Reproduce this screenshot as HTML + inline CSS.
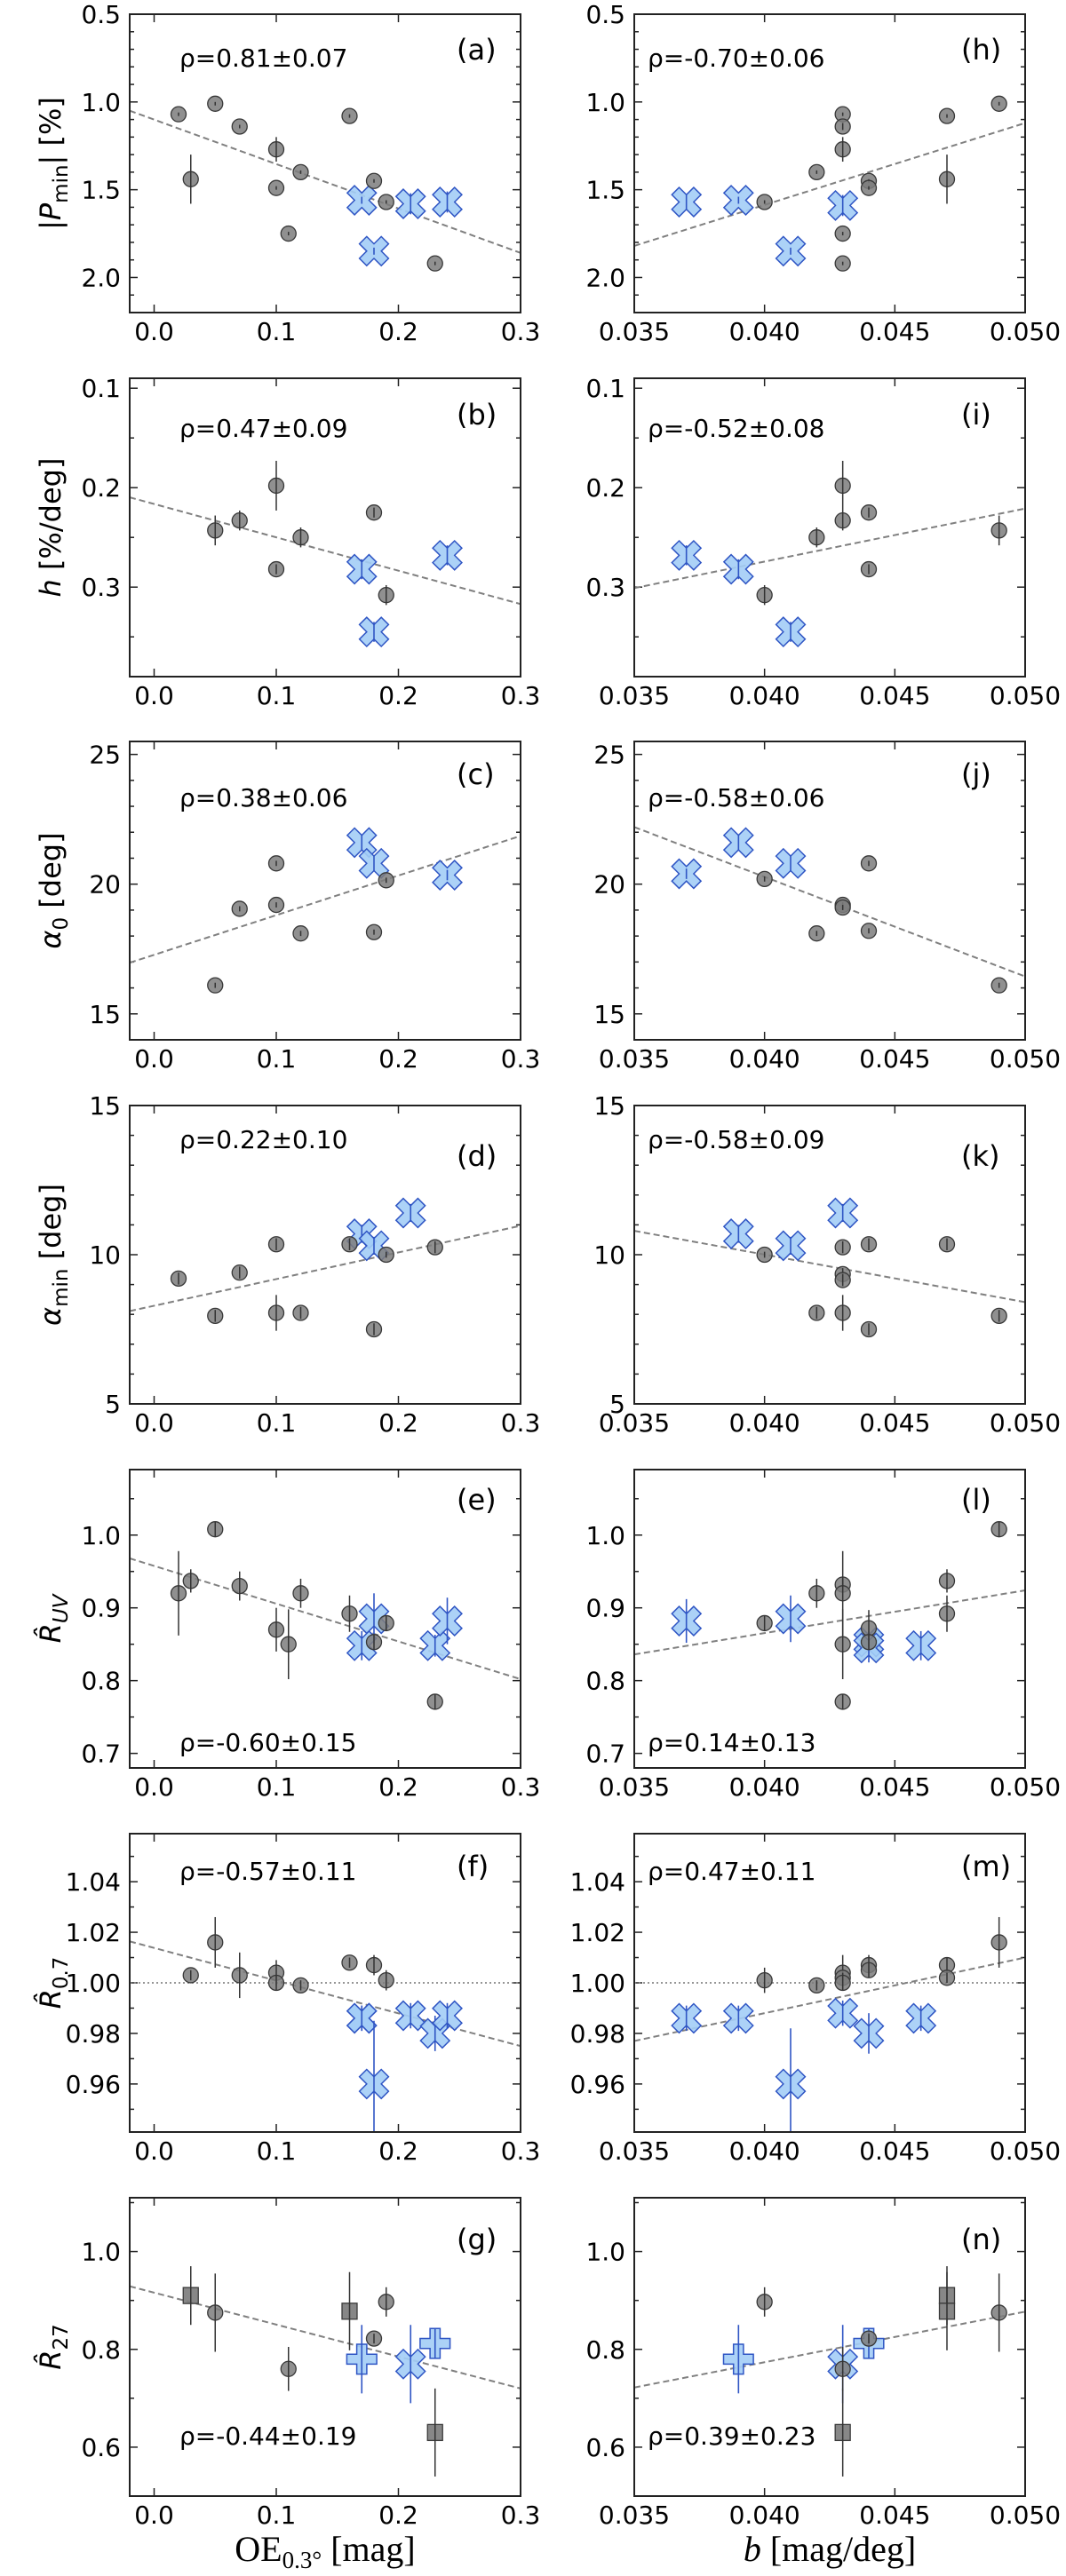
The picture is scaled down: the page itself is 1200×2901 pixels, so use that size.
<!DOCTYPE html>
<html><head><meta charset="utf-8">
<style>
html,body{margin:0;padding:0;background:#fff;}
svg{display:block;font-family:"DejaVu Sans","Liberation Sans",sans-serif;}
</style></head>
<body>
<svg id="fig" width="1200" height="2901" viewBox="0 0 1200 2901" xmlns="http://www.w3.org/2000/svg"></svg>
<script>
// ---- data: [x, y, yerr] ----
const xTicksLeft = [0.0, 0.1, 0.2, 0.3];
const xTickLabelsLeft = ["0.0","0.1","0.2","0.3"];
const xTicksRight = [0.035, 0.040, 0.045, 0.050];
const xTickLabelsRight = ["0.035","0.040","0.045","0.050"];

const aCircles = [[0.02,1.07,0.01],[0.03,1.44,0.14],[0.05,1.01,0.01],[0.07,1.14,0.01],[0.10,1.27,0.07],[0.10,1.49,0.01],[0.11,1.75,0.01],[0.12,1.40,0.01],[0.16,1.08,0.01],[0.18,1.45,0.01],[0.19,1.57,0.01],[0.23,1.92,0.01]];
const aCrosses = [[0.17,1.56,0.02],[0.18,1.85,0.02],[0.21,1.58,0.06],[0.24,1.57,0.06]];
const aFit = [1.05,1.86];
const hCircles = [[0.040,1.57,0.01],[0.042,1.40,0.01],[0.043,1.07,0.01],[0.043,1.14,0.02],[0.043,1.27,0.07],[0.043,1.75,0.01],[0.043,1.92,0.01],[0.044,1.45,0.01],[0.044,1.49,0.01],[0.047,1.08,0.01],[0.047,1.44,0.14],[0.049,1.01,0.01]];
const hCrosses = [[0.037,1.57,0.04],[0.039,1.56,0.02],[0.041,1.85,0.02],[0.043,1.59,0.06]];
const hFit = [1.82,1.12];

const bCircles = [[0.05,0.243,0.015],[0.07,0.233,0.01],[0.10,0.198,0.025],[0.10,0.282,0.005],[0.12,0.25,0.01],[0.18,0.225,0.005],[0.19,0.308,0.01]];
const bCrosses = [[0.17,0.282,0.01],[0.18,0.345,0.01],[0.24,0.268,0.01]];
const bFit = [0.2097,0.317];
const iCircles = [[0.040,0.308,0.01],[0.042,0.25,0.01],[0.043,0.198,0.025],[0.043,0.233,0.01],[0.044,0.225,0.005],[0.044,0.282,0.005],[0.049,0.243,0.015]];
const iCrosses = [[0.037,0.268,0.01],[0.039,0.282,0.01],[0.041,0.345,0.01]];
const iFit = [0.301,0.221];

const cCircles = [[0.05,16.1,0.1],[0.07,19.05,0.1],[0.10,20.8,0.1],[0.10,19.2,0.1],[0.12,18.1,0.1],[0.18,18.15,0.1],[0.19,20.15,0.1]];
const cCrosses = [[0.17,21.6,0.3],[0.18,20.8,0.3],[0.24,20.35,0.2]];
const cFit = [16.97,21.86];
const jCircles = [[0.040,20.2,0.1],[0.042,18.1,0.1],[0.043,19.2,0.1],[0.043,19.1,0.1],[0.044,20.8,0.1],[0.044,18.2,0.1],[0.049,16.1,0.1]];
const jCrosses = [[0.037,20.4,0.2],[0.039,21.6,0.3],[0.041,20.8,0.3]];
const jFit = [22.2,16.44];

const dCircles = [[0.02,9.2,0.2],[0.05,7.95,0.2],[0.07,9.4,0.2],[0.10,10.35,0.2],[0.10,8.05,0.6],[0.12,8.05,0.2],[0.16,10.35,0.2],[0.18,7.5,0.2],[0.19,10.0,0.1],[0.23,10.25,0.2]];
const dCrosses = [[0.17,10.7,0.3],[0.18,10.3,0.3],[0.21,11.4,0.3]];
const dFit = [8.11,10.97];
const kCircles = [[0.040,10.0,0.1],[0.042,8.05,0.2],[0.043,10.25,0.2],[0.043,9.35,0.2],[0.043,9.15,0.2],[0.043,8.05,0.6],[0.044,10.35,0.2],[0.044,7.5,0.2],[0.047,10.35,0.2],[0.049,7.95,0.2]];
const kCrosses = [[0.039,10.7,0.3],[0.041,10.3,0.3],[0.043,11.4,0.3]];
const kFit = [10.8,8.41];

const eCircles = [[0.02,0.92,0.058],[0.03,0.937,0.016],[0.05,1.008,0.01],[0.07,0.93,0.02],[0.10,0.87,0.03],[0.11,0.85,0.048],[0.12,0.92,0.02],[0.16,0.892,0.025],[0.18,0.853,0.01],[0.19,0.879,0.01],[0.23,0.771,0.01]];
const eCrosses = [[0.17,0.848,0.02],[0.18,0.885,0.035],[0.23,0.848,0.015],[0.24,0.882,0.032]];
const eFit = [0.968,0.802];
const lCircles = [[0.040,0.879,0.01],[0.042,0.92,0.02],[0.043,0.932,0.01],[0.043,0.92,0.058],[0.043,0.85,0.048],[0.043,0.771,0.01],[0.044,0.872,0.025],[0.044,0.853,0.01],[0.047,0.937,0.016],[0.047,0.892,0.025],[0.049,1.008,0.01]];
const lCrosses = [[0.037,0.882,0.03],[0.041,0.885,0.032],[0.044,0.853,0.015],[0.044,0.845,0.02],[0.046,0.848,0.02]];
const lFit = [0.836,0.924];

const fCircles = [[0.03,1.003,0.002],[0.05,1.016,0.01],[0.07,1.003,0.009],[0.10,1.004,0.005],[0.10,1.000,0.003],[0.12,0.999,0.002],[0.16,1.008,0.002],[0.18,1.007,0.004],[0.19,1.001,0.004]];
const fCrosses = [[0.17,0.986,0.005],[0.17,0.986,0.005],[0.18,0.960,0.025],[0.21,0.987,0.005],[0.23,0.980,0.007],[0.24,0.987,0.005]];
const fFit = [1.0164,0.975];
const mCircles = [[0.040,1.001,0.005],[0.042,0.999,0.002],[0.043,1.004,0.007],[0.043,1.002,0.002],[0.043,1.000,0.003],[0.044,1.007,0.004],[0.044,1.005,0.003],[0.047,1.007,0.003],[0.047,1.002,0.002],[0.049,1.016,0.01]];
const mCrosses = [[0.037,0.986,0.005],[0.039,0.986,0.005],[0.041,0.960,0.022],[0.043,0.988,0.005],[0.044,0.980,0.008],[0.046,0.986,0.005]];
const mFit = [0.977,1.010];

const gSquares = [[0.03,0.91,0.06],[0.16,0.878,0.08],[0.23,0.63,0.09]];
const gCircles = [[0.05,0.875,0.08],[0.11,0.76,0.045],[0.18,0.822,0.01],[0.19,0.897,0.03]];
const gPluses = [[0.17,0.78,0.07],[0.23,0.812,0.03]];
const gCrosses = [[0.21,0.77,0.08]];
const gFit = [0.929,0.72];
const nSquares = [[0.043,0.63,0.09],[0.047,0.91,0.06],[0.047,0.878,0.08]];
const nCircles = [[0.040,0.897,0.03],[0.043,0.76,0.045],[0.044,0.822,0.01],[0.049,0.875,0.08]];
const nPluses = [[0.039,0.78,0.07],[0.044,0.812,0.03]];
const nCrosses = [[0.043,0.77,0.08]];
const nFit = [0.722,0.877];

const rhoTexts = ["ρ=0.81±0.07","ρ=0.47±0.09","ρ=0.38±0.06","ρ=0.22±0.10","ρ=-0.60±0.15","ρ=-0.57±0.11","ρ=-0.44±0.19",
                  "ρ=-0.70±0.06","ρ=-0.52±0.08","ρ=-0.58±0.06","ρ=-0.58±0.09","ρ=0.14±0.13","ρ=0.47±0.11","ρ=0.39±0.23"];

// ---- layout ----
const NS = "http://www.w3.org/2000/svg";
const svg = document.getElementById('fig');
const BW = 440, BH = 336;
const colX = [146, 714];
const rowY = [16, 426, 835, 1245, 1655, 2065, 2475];
const rhoY = [75, 492, 908, 1293, 1972, 2117, 2753];
const letY = [67, 478, 883, 1313, 1700, 2113, 2533];

function el(tag, attrs, parent){
  const e = document.createElementNS(NS, tag);
  for (const k in attrs) e.setAttribute(k, attrs[k]);
  (parent||svg).appendChild(e);
  return e;
}

const rows = [
 {ylim:[0.5,2.2], inv:true, major:[0.5,1.0,1.5,2.0], labels:["0.5","1.0","1.5","2.0"], minor:0.1, ylab:"pmin"},
 {ylim:[0.09,0.39], inv:true, major:[0.1,0.2,0.3], labels:["0.1","0.2","0.3"], minor:0.05, ylab:"h"},
 {ylim:[14,25.5], inv:false, major:[15,20,25], labels:["15","20","25"], minor:1, ylab:"a0"},
 {ylim:[5,15], inv:false, major:[5,10,15], labels:["5","10","15"], minor:1, ylab:"amin"},
 {ylim:[0.68,1.09], inv:false, major:[0.7,0.8,0.9,1.0], labels:["0.7","0.8","0.9","1.0"], minor:0.05, ylab:"ruv"},
 {ylim:[0.941,1.059], inv:false, major:[0.96,0.98,1.00,1.02,1.04], labels:["0.96","0.98","1.00","1.02","1.04"], minor:0.01, ylab:"r07", hline:1.0},
 {ylim:[0.5,1.11], inv:false, major:[0.6,0.8,1.0], labels:["0.6","0.8","1.0"], minor:0.1, ylab:"r27"}
];
const panels = [
 {c:0,r:0,L:"a",circ:aCircles,cross:aCrosses,fit:aFit},
 {c:0,r:1,L:"b",circ:bCircles,cross:bCrosses,fit:bFit},
 {c:0,r:2,L:"c",circ:cCircles,cross:cCrosses,fit:cFit},
 {c:0,r:3,L:"d",circ:dCircles,cross:dCrosses,fit:dFit},
 {c:0,r:4,L:"e",circ:eCircles,cross:eCrosses,fit:eFit},
 {c:0,r:5,L:"f",circ:fCircles,cross:fCrosses,fit:fFit},
 {c:0,r:6,L:"g",circ:gCircles,cross:gCrosses,fit:gFit,sq:gSquares,plus:gPluses},
 {c:1,r:0,L:"h",circ:hCircles,cross:hCrosses,fit:hFit},
 {c:1,r:1,L:"i",circ:iCircles,cross:iCrosses,fit:iFit},
 {c:1,r:2,L:"j",circ:jCircles,cross:jCrosses,fit:jFit},
 {c:1,r:3,L:"k",circ:kCircles,cross:kCrosses,fit:kFit},
 {c:1,r:4,L:"l",circ:lCircles,cross:lCrosses,fit:lFit},
 {c:1,r:5,L:"m",circ:mCircles,cross:mCrosses,fit:mFit},
 {c:1,r:6,L:"n",circ:nCircles,cross:nCrosses,fit:nFit,sq:nSquares,plus:nPluses}
];

const Xshape = [[-1,-2],[0,-1],[1,-2],[2,-1],[1,0],[2,1],[1,2],[0,1],[-1,2],[-2,1],[-1,0],[-2,-1]];
const Pshape = [[-1,-3],[1,-3],[1,-1],[3,-1],[3,1],[1,1],[1,3],[-1,3],[-1,1],[-3,1],[-3,-1],[-1,-1]];
function poly(shape, cx, cy, s){ return shape.map(p=>(cx+p[0]*s).toFixed(1)+','+(cy+p[1]*s).toFixed(1)).join(' '); }

panels.forEach((p, idx) => {
  const R = rows[p.r];
  const bx = colX[p.c], by = rowY[p.r];
  const xlim = p.c===0 ? [-0.02,0.30] : [0.035,0.050];
  const sx = v => bx + (v - xlim[0])/(xlim[1]-xlim[0])*BW;
  const sy = v => R.inv ? by + (v - R.ylim[0])/(R.ylim[1]-R.ylim[0])*BH
                        : by + (R.ylim[1] - v)/(R.ylim[1]-R.ylim[0])*BH;
  const g = el('g', {});
  
  
  const clipId = 'clip' + p.L;
  const cp = el('clipPath', {id:clipId}, g);
  el('rect', {x:bx, y:by, width:BW, height:BH}, cp);

  // ticks
  const tg = el('g', {stroke:'#222','stroke-width':1.5}, g);
  
  
  const xt = p.c===0 ? xTicksLeft : xTicksRight;
  const xl = p.c===0 ? xTickLabelsLeft : xTickLabelsRight;
  xt.forEach((v,i) => {
    const x = sx(v);
    el('line', {x1:x, y1:by+BH, x2:x, y2:by+BH-9}, tg);
    el('line', {x1:x, y1:by, x2:x, y2:by+9}, tg);
    const t = el('text', {x:x, y:by+BH+31, 'text-anchor':'middle', 'font-size':28, fill:'#000'}, g);
    t.textContent = xl[i];
    
    
  });
  const lo = Math.min(...R.ylim), hi = Math.max(...R.ylim);
  const nStart = Math.ceil(lo/R.minor - 1e-6), nEnd = Math.floor(hi/R.minor + 1e-6);
  for (let n=nStart; n<=nEnd; n++){
    const v = n*R.minor;
    const isMaj = R.major.some(m => Math.abs(m-v) < 1e-6);
    const y = sy(v), len = isMaj ? 9 : 5;
    el('line', {x1:bx, y1:y, x2:bx+len, y2:y}, tg);
    el('line', {x1:bx+BW, y1:y, x2:bx+BW-len, y2:y}, tg);
  }
  R.major.forEach((v,i) => {
    const t = el('text', {x:bx-10, y:sy(v)+10, 'text-anchor':'end', 'font-size':28, fill:'#000'}, g);
    t.textContent = R.labels[i];
    
    
  });

  const plot = el('g', {'clip-path':'url(#'+clipId+')'}, g);
  if (R.hline !== undefined){
    const hl = el('line', {x1:bx, x2:bx+BW, y1:sy(R.hline), y2:sy(R.hline), stroke:'#888','stroke-width':1.8,'stroke-dasharray':'2,3'}, plot);
    
    
  }
  const fl = el('line', {x1:sx(xlim[0]), y1:sy(p.fit[0]), x2:sx(xlim[1]), y2:sy(p.fit[1]), stroke:'#808080','stroke-width':2,'stroke-dasharray':'7,4'}, plot);
  
  

  const blue = '#2f55c4', bfill = '#a3cdf6';
  (p.cross||[]).forEach(d => {
    const x = sx(d[0]), y = sy(d[1]);
    const m = el('polygon', {points:poly(Xshape,x,y,8.2), fill:bfill, 'fill-opacity':0.9, stroke:blue, 'stroke-width':1.5}, plot);
    
    
    const e = el('line', {x1:x, x2:x, y1:sy(d[1]-d[2]), y2:sy(d[1]+d[2]), stroke:blue,'stroke-width':1.6}, plot);
    
    
  });
  (p.plus||[]).forEach(d => {
    const x = sx(d[0]), y = sy(d[1]);
    const m = el('polygon', {points:poly(Pshape,x,y,5.6), fill:bfill, 'fill-opacity':0.9, stroke:blue, 'stroke-width':1.5}, plot);
    
    
    const e = el('line', {x1:x, x2:x, y1:sy(d[1]-d[2]), y2:sy(d[1]+d[2]), stroke:blue,'stroke-width':1.6}, plot);
    
    
  });
  (p.sq||[]).forEach(d => {
    const x = sx(d[0]), y = sy(d[1]);
    const m = el('rect', {x:x-8.5, y:y-9, width:17, height:18, fill:'#7a7a7a', 'fill-opacity':0.9, stroke:'#3a3a3a','stroke-width':1.3}, plot);
    
    
    const e = el('line', {x1:x, x2:x, y1:sy(d[1]-d[2]), y2:sy(d[1]+d[2]), stroke:'#333','stroke-width':1.5}, plot);
    
    
  });
  (p.circ||[]).forEach(d => {
    const x = sx(d[0]), y = sy(d[1]);
    const m = el('ellipse', {cx:x, cy:y, rx:8.5, ry:8.5, fill:'#7c7c7c', 'fill-opacity':0.85, stroke:'#383838','stroke-width':1.3}, plot);
    
    
    const e = el('line', {x1:x, x2:x, y1:sy(d[1]-d[2]), y2:sy(d[1]+d[2]), stroke:'#333','stroke-width':1.5}, plot);
    
    
  });

  const frame = el('rect', {x:bx, y:by, width:BW, height:BH, fill:'none', stroke:'#222','stroke-width':2}, g);
  
  

  const rt = el('text', {x: bx + (p.c===0?56:15), y: rhoY[p.r], 'font-size':28, fill:'#000'}, g);
  rt.textContent = rhoTexts[idx];
  
  
  const lt = el('text', {x: bx + 368, y: letY[p.r], 'font-size':32, fill:'#000'}, g);
  lt.textContent = '(' + p.L + ')';
  
  
});
</script>

<!-- y-axis titles -->
<svg style="position:absolute;left:0;top:0" width="1200" height="2901" viewBox="0 0 1200 2901" xmlns="http://www.w3.org/2000/svg" font-family="DejaVu Sans, Liberation Sans, sans-serif" font-size="32">
  <text transform="translate(68,184) rotate(-90)" text-anchor="middle">|<tspan font-style="italic">P</tspan><tspan font-size="23" dy="8">min</tspan><tspan dy="-8">| [%]</tspan></text>
  <text transform="translate(68,594) rotate(-90)" text-anchor="middle"><tspan font-style="italic">h</tspan> [%/deg]</text>
  <text transform="translate(68,1003) rotate(-90)" text-anchor="middle"><tspan font-style="italic">α</tspan><tspan font-size="23" dy="8">0</tspan><tspan dy="-8"> [deg]</tspan></text>
  <text transform="translate(68,1413) rotate(-90)" text-anchor="middle"><tspan font-style="italic">α</tspan><tspan font-size="23" dy="8">min</tspan><tspan dy="-8"> [deg]</tspan></text>
  <text transform="translate(68,1823) rotate(-90)" text-anchor="middle"><tspan font-style="italic">R̂</tspan><tspan font-size="23" dy="8" font-style="italic">UV</tspan></text>
  <text transform="translate(68,2233) rotate(-90)" text-anchor="middle"><tspan font-style="italic">R̂</tspan><tspan font-size="23" dy="8">0.7</tspan></text>
  <text transform="translate(68,2643) rotate(-90)" text-anchor="middle"><tspan font-style="italic">R̂</tspan><tspan font-size="23" dy="8">27</tspan></text>
  <text x="366" y="2884" text-anchor="middle" font-family="Liberation Serif, serif" font-size="40">OE<tspan font-size="27" dy="8">0.3°</tspan><tspan dy="-8"> [mag]</tspan></text>
  <text x="934" y="2884" text-anchor="middle" font-family="Liberation Serif, serif" font-size="40"><tspan font-style="italic">b</tspan> [mag/deg]</text>
</svg>
</body></html>
